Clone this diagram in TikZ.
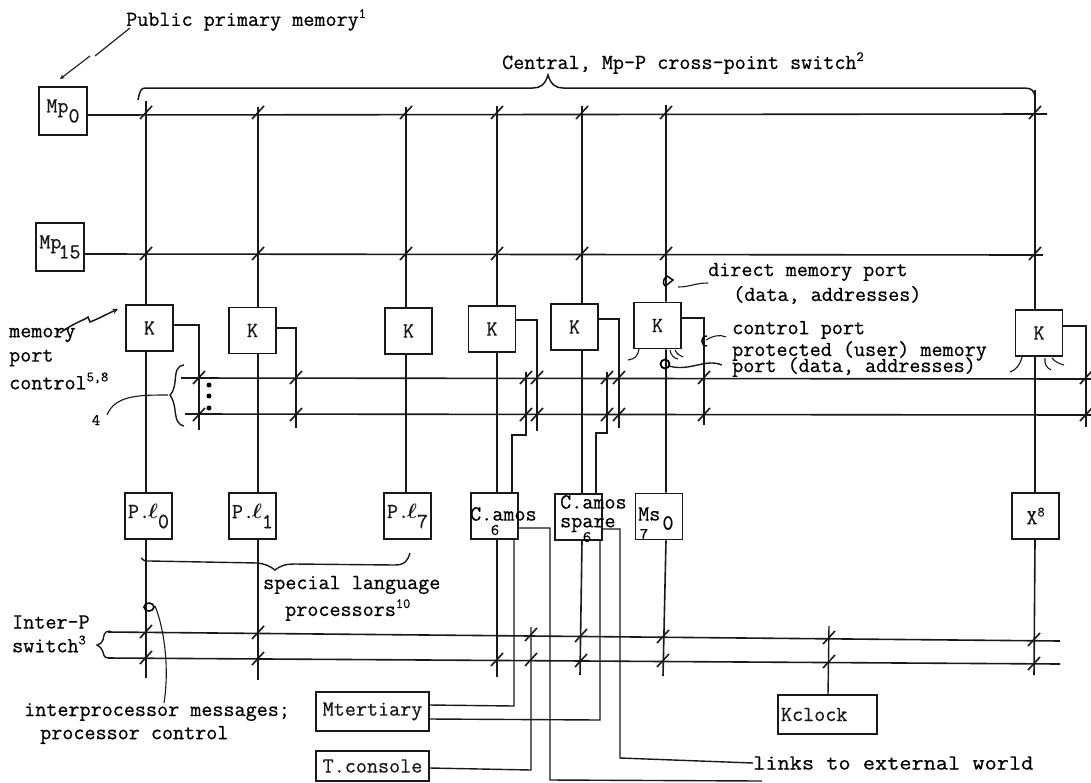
\documentclass[tikz,border=0pt]{standalone}
\usepackage{fontspec}
\newfontfamily\tw[FakeBold=0.6]{Latin Modern Mono}
\tikzset{
  ln/.style={line width=1.6pt,black!90},
  thin ln/.style={line width=1.4pt,black!90},
  box/.style={draw,line width=1.6pt,black!90,minimum width=47pt,minimum height=46pt,inner sep=0pt,font=\lbl},
  wide/.style={draw,line width=1.8pt,black!90,minimum width=113pt,minimum height=39pt,inner sep=0pt,font=\lbl},
  lab/.style={inner sep=0pt,anchor=west,font=\lbl},
  hand/.style={line width=1.1pt,black!90},
  x=1pt,y=-1pt
}
\newcommand{\lbl}{\fontsize{21.5}{24}\selectfont\tw}
\newcommand{\smalllbl}{\fontsize{14}{14}\selectfont\tw}
\newcommand{\sbx}[1]{\raisebox{-7pt}{#1}}
\newcommand{\spx}[1]{\raisebox{8pt}{\smalllbl #1}}
\newcommand{\xt}[2]{\draw[ln] (#1-6,#2+6) -- (#1+6,#2-7);}
\newcommand{\pl}{\raisebox{3pt}{P.\hspace{-2pt}{\boldmath$\ell$}}}
\begin{document}
\begin{tikzpicture}
\useasboundingbox (0,0) rectangle (1091,782);
% memory boxes
\node[box,minimum width=48pt,minimum height=48pt] (mp0) at (63,111) {\raisebox{3pt}{Mp}\sbx{0}};
\node[box,minimum width=48pt,minimum height=48pt] (mp15) at (60,247) {\raisebox{3pt}{Mp}\hspace{-3pt}\sbx{15}};
% K boxes
\node[box] (k1) at (149.5,328) {K};
\node[box] (k2) at (252.5,330.5) {K};
\node[box] (k3) at (408.5,331) {K};
\node[box] (k4) at (492,329) {K};
\node[box] (k5) at (574.5,327) {K};
\node[box] (k6) at (657.5,325.5) {K};
\node[box] (k7) at (1039,333) {K};
% processor boxes
\node[box] (p0) at (148.5,516) {\pl\sbx{0}};
\node[box] (p1) at (252.5,516) {\pl\sbx{1}};
\node[box] (p7) at (407.5,516) {\pl\sbx{7}};
\node[box] (c6) at (494.5,516) {};
\node[box] (cs) at (578.5,517) {};
\node[box] (ms) at (659,516.5) {};
\node[box] (x8) at (1035.5,516) {X\spx{8}};
\node[wide] (mt) at (372.5,711.5) {Mtertiary};
\node[wide,minimum height=30pt] (tc) at (372.5,766) {T.console};
\node[box,minimum width=99pt,minimum height=39pt,text width=93pt] (kc) at (827.5,714.5) {Kclock};
% box labels that overrun
\node[lab] (c6a) at (470,514) {C.amos};
\node[inner sep=0pt,font=\fontsize{16}{16}\selectfont\tw] (c6b) at (495,530) {6};
\node[lab] (csa) at (560,502) {C.amos};
\node[lab] (csb) at (560,525) {spare};
\node[inner sep=0pt,font=\fontsize{16}{16}\selectfont\tw] (csc) at (587,537) {6};
\node[lab] (msa) at (638,514) {Ms};
\node[inner sep=0pt,font=\lbl] (msb) at (668,523) {0};
\node[inner sep=0pt,font=\fontsize{16}{16}\selectfont\tw] (msc) at (644,534) {7};
% texts
\node[lab] (t1) at (126,20) {Public primary memory\spx{1}};
\node[lab] (t2) at (502,63) {Central, Mp-P cross-point switch\spx{2}};
\node[lab] (t3) at (708,272) {direct memory port};
\node[lab] (t4) at (733,295) {(data, addresses)};
\node[lab] (t5) at (732,330) {control port};
\node[lab] (t6) at (732,351) {protected (user) memory};
\node[lab] (t7) at (732,367) {port (data, addresses)};
\node[lab] (t8) at (9,335) {memory};
\node[lab] (t9) at (9,358) {port};
\node[lab] (t10) at (9,381) {control\spx{5,8}};
\node[inner sep=0pt,font=\fontsize{16}{16}\selectfont\tw] (t11) at (96,420) {4};
\node[lab] (t12) at (263,585) {special language};
\node[lab] (t13) at (285,610) {processors\spx{10}};
\node[lab] (t14) at (12,622) {Inter-P};
\node[lab] (t15) at (12,644) {switch\spx{3}};
\node[lab] (t16) at (24,712) {interprocessor messages;};
\node[lab] (t17) at (40,735) {processor control};
\node[lab] (t18) at (753,763) {\scalebox{1.1}[1]{links to external world}};
% free ends
\coordinate (v1) at (146,101); \coordinate (v2) at (258,107); \coordinate (v3) at (406,107);
\coordinate (v4) at (497,106); \coordinate (v5) at (582,106); \coordinate (v6) at (666,105);
\coordinate (v7) at (1035,90);
% Mp buses
\coordinate (e0) at (1047,114); \coordinate (e15) at (1043,255);
\draw[ln] (mp0.east |- 0,115) -- (e0);
\draw[ln] (mp15.east |- 0,254) -- (e15);
% vertical lines
\draw[ln] (v1) -- (v1 |- k1.north) (k1.south -| v1) -- (p0.north -| v1) (p0.south -| v1) -- (146,678);
\draw[ln] (v2) -- (v2 |- k2.north) (k2.south -| v2) -- (p1.north -| v2) (p1.south -| v2) -- (258,680);
\draw[ln] (v3) -- (v3 |- k3.north) (k3.south -| v3) -- (p7.north -| v3);
\draw[ln] (v4) -- (v4 |- k4.north) (k4.south -| v4) -- (c6.north -| v4) (c6.south -| v4) -- (497,677);
\draw[ln] (v5) -- (v5 |- k5.north) (k5.south -| v5) -- (cs.north -| v5) (cs.south -| v5) -- (580,675);
\draw[ln] (v6) -- (v6 |- k6.north) (k6.south -| v6) -- (ms.north -| v6) (ms.south -| v6) -- (663,676);
\draw[ln] (v7) -- (v7 |- k7.north) (k7.south -| v7) -- (x8.north -| v7) (x8.south -| v7) -- (1034,675);
% K stubs
\draw[thin ln] (k1.east |- 0,325) -- (199,325) -- (199,430);
\draw[thin ln] (k2.east |- 0,328) -- (296,328) -- (296,428);
\draw[thin ln] (k4.east |- 0,320) -- (537,320) -- (537,431);
\draw[thin ln] (k5.east |- 0,319) -- (619,319) -- (619,428);
\draw[thin ln] (k6.east |- 0,318) -- (704,318) -- (704,425);
\draw[thin ln] (k7.east |- 0,326) -- (1086,326) -- (1086,427);
% second ports
\draw[thin ln] (526,372) -- (526,435) -- (512,435) -- (c6.north -| 512,0);
\draw[thin ln] (607,372) -- (607,433) -- (596,433) -- (cs.north -| 596,0);
% port buses
\draw[ln] (181,378) -- (1091,379);
\draw[ln] (185,414) -- (1091,415);
% inter-P buses
\draw[ln] (108,632) -- (1060,641);
\draw[ln] (108,658) -- (1060,664);
% lower links
\draw[thin ln] (mt.east |- 0,705) -- (514,706) -- (c6.south -| 514,0);
\draw[thin ln] (mt.east |- 0,719) -- (600,720) -- (cs.south -| 600,0);
\draw[thin ln] (tc.east |- 0,768) -- (531,770) -- (531,627);
\draw[thin ln] (c6.east |- 0,528) -- (550,528) -- (550,780) -- (762,781);
\draw[thin ln] (cs.east |- 0,529) -- (620,529) -- (620,758) -- (t18.west);
\draw[thin ln] (kc.north -| 828,0) -- (829,626);
% ticks
\foreach \a in {146,258,406,497,582,666,1035}{\xt{\a}{113}\xt{\a}{254}}
\foreach \a in {199,296,526,537,607,619,704,1086}{\xt{\a}{378}\xt{\a}{415}}
\xt{146}{632}\xt{146}{658}\xt{258}{633}\xt{258}{659}
\xt{497}{660}\xt{531}{635}\xt{531}{660}
\xt{581}{636}\xt{581}{661}\xt{663}{637}\xt{663}{661}\xt{829}{638}\xt{829}{662}\xt{1034}{640}\xt{1034}{664}
% dots
\fill (209,385) circle (2.5) (209,396) circle (2.5) (209,408) circle (2.5);
% braces
\draw[hand,line width=1.5pt] (138,100) .. controls (140,90) and (141,88) .. (146,88) -- (533,88) .. controls (540,88) and (545,85) .. (548,75) .. controls (551,85) and (556,88) .. (563,88) -- (1022,88) .. controls (1032,88) and (1035,90) .. (1035,100);
\draw[hand,line width=1.4pt] (184,365) .. controls (176,366) and (176,372) .. (175,382) .. controls (174,390) and (172,393) .. (170,395) .. controls (172,398) and (174,402) .. (175,410) .. controls (176,420) and (178,425) .. (184,426);
\draw[hand] (168,395) .. controls (140,395) and (115,395) .. (107,415);
\draw[hand,line width=1.4pt] (141,558) .. controls (143,561) and (145,561) .. (150,561) -- (258,563) .. controls (265,564) and (270,566) .. (275,570) .. controls (280,566) and (285,564) .. (295,564) -- (395,565) .. controls (405,565) and (408,560) .. (410,553);
\draw[hand,line width=1.4pt] (110,631) .. controls (104,631) and (104,635) .. (103,640) .. controls (102,643) and (100,644) .. (97,645) .. controls (100,646) and (102,649) .. (103,652) .. controls (104,656) and (104,658) .. (110,658);
% annotations
\draw[hand] (130,28) -- (95,56);
\draw[hand,-stealth] (90,56) -- (60,79);
\draw[hand,line width=1.5pt,-stealth] (60,333) .. controls (75,322) and (85,320) .. (88,317) -- (90,322) .. controls (100,318) and (105,315) .. (118,309);
\draw[line width=1.6pt] (149,607) ellipse (5 and 4);
\draw[hand] (155,606) .. controls (163,625) and (170,665) .. (164,703);
\draw[line width=1.4pt] (668,284) -- (673,280) -- (667,276) .. controls (662,278) and (662,290) .. (668,284);
\draw[hand] (678,287) .. controls (690,287) and (695,283) .. (708,283);
\draw[line width=1.8pt] (665,364) circle (4.5);
\draw[hand,line width=1.4pt] (669,366) .. controls (690,372) and (705,358) .. (722,365);
\draw[line width=1.4pt] (707,336) .. controls (700,336) and (700,346) .. (707,346);
\draw[hand] (706,340) .. controls (712,336) and (720,334) .. (726,337);
% whiskers
\draw[hand] (639,349) .. controls (638,356) and (635,359) .. (628,360);
\draw[hand] (670,350) .. controls (671,356) and (674,358) .. (678,359);
\draw[hand] (675,350) .. controls (677,354) and (680,356) .. (683,357);
\draw[hand] (1022,357) .. controls (1020,365) and (1016,370) .. (1010,372);
\draw[hand] (1045,358) .. controls (1044,364) and (1047,368) .. (1051,370);
\draw[hand] (1052,358) .. controls (1055,362) and (1060,364) .. (1064,365);
\end{tikzpicture}
\end{document}
